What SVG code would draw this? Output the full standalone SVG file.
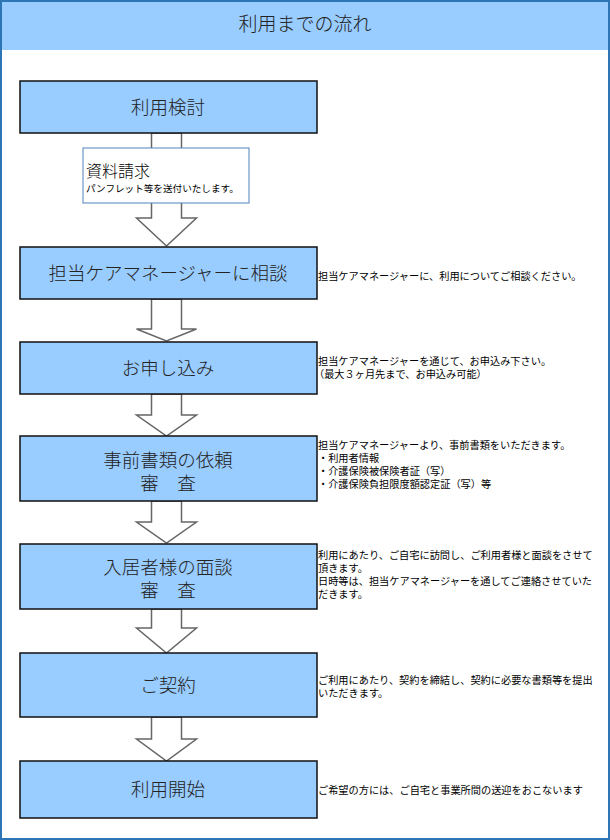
<svg xmlns="http://www.w3.org/2000/svg" width="610" height="840" viewBox="0 0 610 840">
<style>
.box{fill:#99ccff;stroke:#111;stroke-width:1.5}
.arr{fill:#fff;stroke:#666;stroke-width:1.5;stroke-linejoin:miter}
.bt{font-family:"Noto Sans CJK JP","Noto Sans",sans-serif;font-size:18.5px;font-weight:300;fill:#222;text-anchor:middle}
.st{font-family:"Noto Sans CJK JP","Noto Sans",sans-serif;font-size:10.2px;fill:#000}
</style>
<rect x="0" y="0" width="610" height="840" fill="#fff"/>
<rect x="1" y="1" width="608" height="49" fill="#99ccff"/>
<text x="305" y="31" font-family="'Noto Sans CJK JP','Noto Sans',sans-serif" font-size="19" font-weight="300" text-anchor="middle" fill="#222">利用までの流れ</text>
<rect x="1" y="1" width="608" height="838" fill="none" stroke="#2e75b6" stroke-width="2"/>
<g id="connectors">
<polygon class="arr" points="151.5,133 181.5,133 181.5,218 196.5,218 166.5,246 136.5,218 151.5,218"/>
<polygon class="arr" points="151.5,299 181.5,299 181.5,329 196.5,329 166.5,341 136.5,329 151.5,329"/>
<polygon class="arr" points="151.5,394 181.5,394 181.5,415 196.5,415 166.5,436 136.5,415 151.5,415"/>
<polygon class="arr" points="151.5,501 181.5,501 181.5,522 196.5,522 166.5,543 136.5,522 151.5,522"/>
<polygon class="arr" points="151.5,609 181.5,609 181.5,628 196.5,628 166.5,653 136.5,628 151.5,628"/>
<polygon class="arr" points="151.5,717 181.5,717 181.5,739 196.5,739 166.5,761 136.5,739 151.5,739"/>
</g>
<g id="n1"><rect class="box" x="20" y="81" width="297" height="52"/><text class="bt" x="168" y="114">利用検討</text></g>
<g id="n1note"><rect x="83" y="148" width="166" height="55" fill="#fff" stroke="#4f81bd" stroke-width="1"/>
<text x="86" y="177" font-family="'Noto Sans CJK JP','Noto Sans',sans-serif" font-size="16" font-weight="300" fill="#000">資料請求</text>
<text x="86" y="192" font-family="'Noto Sans CJK JP','Noto Sans',sans-serif" font-size="9.6" fill="#000">パンフレット等を送付いたします。</text></g>
<g id="n2"><rect class="box" x="20" y="247" width="297" height="52"/><text class="bt" x="168" y="280">担当ケアマネージャーに相談</text>
<text class="st" x="318" y="279.5">担当ケアマネージャーに、利用についてご相談ください。</text></g>
<g id="n3"><rect class="box" x="20" y="342" width="297" height="52"/><text class="bt" x="168" y="375">お申し込み</text>
<text class="st" x="318" y="365">担当ケアマネージャーを通じて、お申込み下さい。</text>
<text class="st" x="314" y="378">（最大３ヶ月先まで、お申込み可能）</text></g>
<g id="n4"><rect class="box" x="20" y="436" width="297" height="65"/><text class="bt" x="168" y="467">事前書類の依頼</text><text class="bt" x="168" y="490">審　査</text>
<text class="st" x="318" y="449">担当ケアマネージャーより、事前書類をいただきます。</text>
<text class="st" x="318" y="462">・利用者情報</text>
<text class="st" x="318" y="475">・介護保険被保険者証（写）</text>
<text class="st" x="318" y="488">・介護保険負担限度額認定証（写）等</text></g>
<g id="n5"><rect class="box" x="20" y="544" width="297" height="65"/><text class="bt" x="168" y="574">入居者様の面談</text><text class="bt" x="168" y="597">審　査</text>
<text class="st" x="318" y="559">利用にあたり、ご自宅に訪問し、ご利用者様と面談をさせて</text>
<text class="st" x="318" y="572">頂きます。</text>
<text class="st" x="318" y="585">日時等は、担当ケアマネージャーを通してご連絡させていた</text>
<text class="st" x="318" y="598">だきます。</text></g>
<g id="n6"><rect class="box" x="20" y="653" width="297" height="64"/><text class="bt" x="168" y="692">ご契約</text>
<text class="st" x="318" y="684">ご利用にあたり、契約を締結し、契約に必要な書類等を提出</text>
<text class="st" x="318" y="697">いただきます。</text></g>
<g id="n7"><rect class="box" x="20" y="761" width="297" height="57"/><text class="bt" x="168" y="796">利用開始</text>
<text class="st" x="318" y="794">ご希望の方には、ご自宅と事業所間の送迎をおこないます</text></g>
</svg>
